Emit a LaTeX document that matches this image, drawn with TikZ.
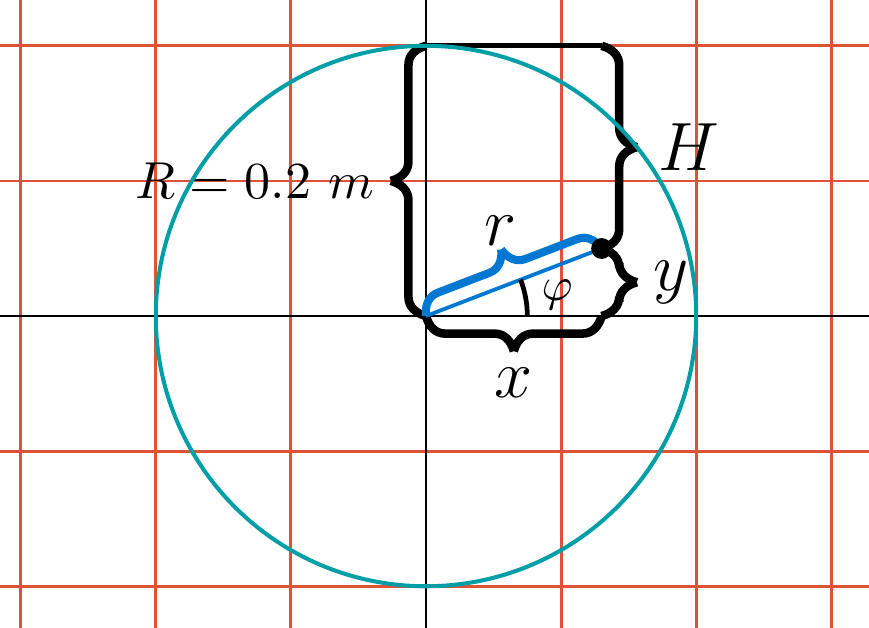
\documentclass[tikz,border=0pt]{standalone}
\usepackage{amsmath,amssymb}
\usepackage{xcolor}
\usepackage{tikz}
\usetikzlibrary{positioning,decorations.pathreplacing}
\definecolor{gridred}{RGB}{224,82,54}
\definecolor{circteal}{RGB}{0,158,166}
\definecolor{radblue}{RGB}{0,120,210}

% brace with short curls
\pgfdeclaredecoration{tightbrace}{brace}
{%
  \state{brace}[width=+\pgfdecoratedremainingdistance,next state=final]
  {%
    \pgfpathmoveto{\pgfpointorigin}%
    \pgfpathcurveto
    {\pgfqpoint{.08\pgfdecorationsegmentamplitude}{.3\pgfdecorationsegmentamplitude}}%
    {\pgfqpoint{.27\pgfdecorationsegmentamplitude}{.5\pgfdecorationsegmentamplitude}}%
    {\pgfqpoint{.55\pgfdecorationsegmentamplitude}{.5\pgfdecorationsegmentamplitude}}%
    {%
      \pgftransformxshift{+\pgfdecorationsegmentaspect\pgfdecoratedremainingdistance}%
      \pgfpathlineto{\pgfqpoint{-.55\pgfdecorationsegmentamplitude}{.5\pgfdecorationsegmentamplitude}}%
      \pgfpathcurveto
      {\pgfqpoint{-.27\pgfdecorationsegmentamplitude}{.5\pgfdecorationsegmentamplitude}}%
      {\pgfqpoint{-.08\pgfdecorationsegmentamplitude}{.7\pgfdecorationsegmentamplitude}}%
      {\pgfqpoint{0pt}{\pgfdecorationsegmentamplitude}}%
      \pgfpathmoveto{\pgfqpoint{0pt}{\pgfdecorationsegmentamplitude}}%
      \pgfpathcurveto
      {\pgfqpoint{.08\pgfdecorationsegmentamplitude}{.7\pgfdecorationsegmentamplitude}}%
      {\pgfqpoint{.27\pgfdecorationsegmentamplitude}{.5\pgfdecorationsegmentamplitude}}%
      {\pgfqpoint{.55\pgfdecorationsegmentamplitude}{.5\pgfdecorationsegmentamplitude}}%
    }%
    {%
      \pgftransformxshift{+\pgfdecoratedremainingdistance}%
      \pgfpathlineto{\pgfqpoint{-.55\pgfdecorationsegmentamplitude}{.5\pgfdecorationsegmentamplitude}}%
      \pgfpathcurveto
      {\pgfqpoint{-.27\pgfdecorationsegmentamplitude}{.5\pgfdecorationsegmentamplitude}}%
      {\pgfqpoint{-.08\pgfdecorationsegmentamplitude}{.3\pgfdecorationsegmentamplitude}}%
      {\pgfqpoint{0pt}{0pt}}%
    }%
  }%
  \state{final}{}%
}

\begin{document}
\begin{tikzpicture}[
  gridline/.style={gridred, line width=0.6pt},
  axis/.style={black, line width=0.5pt},
  brc/.style={decorate, decoration={tightbrace, amplitude=7.4pt}, line width=1.8pt},
  lbl/.style={font=\Large, inner sep=0pt}
]
\useasboundingbox (-3.153,-2.302) rectangle (3.279,2.339);
\clip (-3.153,-2.302) rectangle (3.279,2.339);
\draw[gridline] (-3.5,-2.5) grid (3.5,2.5);
\draw[axis] (-3.5,0) -- (3.5,0);
\draw[axis] (0,-2.5) -- (0,2.5);
\coordinate (O) at (0,0);
\coordinate (P) at (1.3,0.5);
\coordinate (T) at (0,2);
\coordinate (Q) at (1.3,2);
\coordinate (X) at (1.3,0);
\draw[line width=1.1pt] (T) -- (Q);
\draw[brc] (O) -- (T)
  node[midway, left=10pt, inner sep=0pt, font=\fontsize{11.2}{13}\selectfont] (Rlab) {$R=0.2\ m$};
\draw[brc] (Q) -- (P) node[lbl, midway, right=11pt] (Hlab) {$H$};
\draw[brc] (P) -- (X) node[lbl, midway, right=10pt] (ylab) {$y$};
\draw[brc] (X) -- (O) node[lbl, midway, below=10pt] (xlab) {$x$};
\draw[radblue, line width=0.8pt] (O) -- (P);
\draw[brc, radblue, line width=1.7pt] (O) -- (P);
\node[lbl] (rlab) at (0.55,0.63) {$r$};
\draw[line width=1pt] (0.75,0) arc[start angle=0, end angle=21.04, radius=0.75];
\node (philab) at (0.97,0.155) {$\varphi$};
\draw[circteal, line width=0.85pt] (O) circle (2);
\fill (P) circle (2.2pt);
\end{tikzpicture}
\end{document}
